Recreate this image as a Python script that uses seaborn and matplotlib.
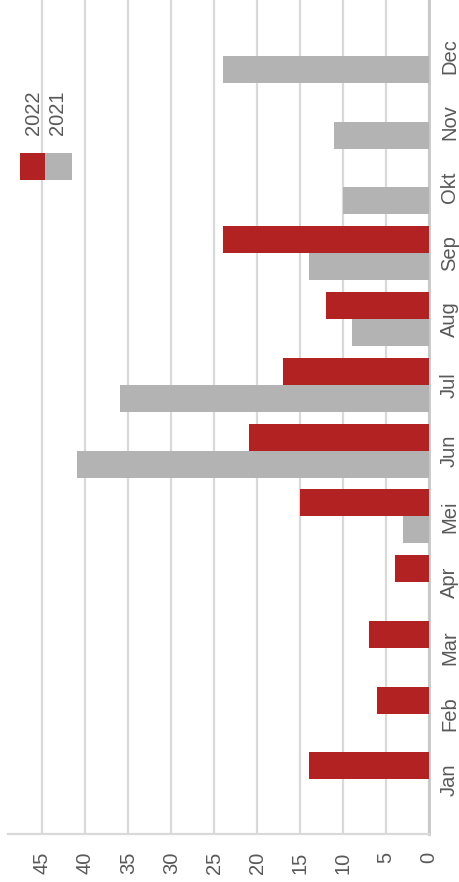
import matplotlib
matplotlib.use("Agg")
import matplotlib.pyplot as plt
import numpy as np
import pandas as pd
import seaborn as sns
from matplotlib.patches import Rectangle

months = ["Jan", "Feb", "Mar", "Apr", "Mei", "Jun", "Jul", "Aug", "Sep", "Okt", "Nov", "Dec"]
vals_2021 = [np.nan, np.nan, np.nan, np.nan, 3, 41, 36, 9, 14, 10, 11, 24]
vals_2022 = [14, 6, 7, 4, 15, 21, 17, 12, 24, np.nan, np.nan, np.nan]
years = ["2021", "2022"]
colors = {"2021": "#b3b3b3", "2022": "#b22222"}
x_ticks = list(range(0, 50, 5))

df = pd.concat(
    [
        pd.DataFrame({"month": months, "value": vals_2021, "year": "2021"}),
        pd.DataFrame({"month": months, "value": vals_2022, "year": "2022"}),
    ]
).dropna()

sns.set_style("white")
plt.rcParams["font.family"] = ["Liberation Sans", "DejaVu Sans"]
text_col = "#595959"
fs = 14.5

fig = plt.figure(figsize=(4.59, 8.82), dpi=100)
ax = fig.add_axes([8 / 459, 48 / 882, 421 / 459, 834 / 882])

sns.barplot(
    data=df, x="value", y="month", hue="year", order=months, hue_order=years,
    palette=colors, orient="h", width=0.82, saturation=1, errorbar=None,
    legend=False, ax=ax, zorder=3, linewidth=0,
)

ax.set_xlim(49, 0)
ax.set_ylim(-0.83, 11.85)
ax.set_xticks(x_ticks)
ax.set_xticklabels([str(t) for t in x_ticks], rotation=90, fontsize=fs, color=text_col)
ax.xaxis.grid(True, color="#d9d9d9", lw=1.6)
ax.set_axisbelow(True)
ax.set_xlabel("")
ax.set_ylabel("")

ax.yaxis.tick_right()
ax.tick_params(axis="y", length=0, pad=8)
for lab in ax.get_yticklabels():
    lab.set_rotation(90)
    lab.set_va("center")
    lab.set_fontsize(fs)
    lab.set_color(text_col)
ax.tick_params(axis="x", length=5, width=1.5, color="#d9d9d9", pad=8)

for s in ["left", "top"]:
    ax.spines[s].set_visible(False)
ax.spines["right"].set_color("#c8c8c8")
ax.spines["right"].set_linewidth(2)
ax.spines["bottom"].set_color("#d9d9d9")
ax.spines["bottom"].set_linewidth(1.6)

# rotated legend
fig.patches.append(Rectangle((20 / 459, 1 - 180 / 882), 25 / 459, 27 / 882,
                             transform=fig.transFigure, color=colors["2022"], lw=0))
fig.patches.append(Rectangle((45 / 459, 1 - 180 / 882), 27 / 459, 27 / 882,
                             transform=fig.transFigure, color=colors["2021"], lw=0))
fig.text(33 / 459, 1 - 113 / 882, "2022", rotation=90, ha="center", va="center",
         fontsize=fs, color=text_col)
fig.text(58 / 459, 1 - 113 / 882, "2021", rotation=90, ha="center", va="center",
         fontsize=fs, color=text_col)

fig.savefig("out.png", dpi=100)
